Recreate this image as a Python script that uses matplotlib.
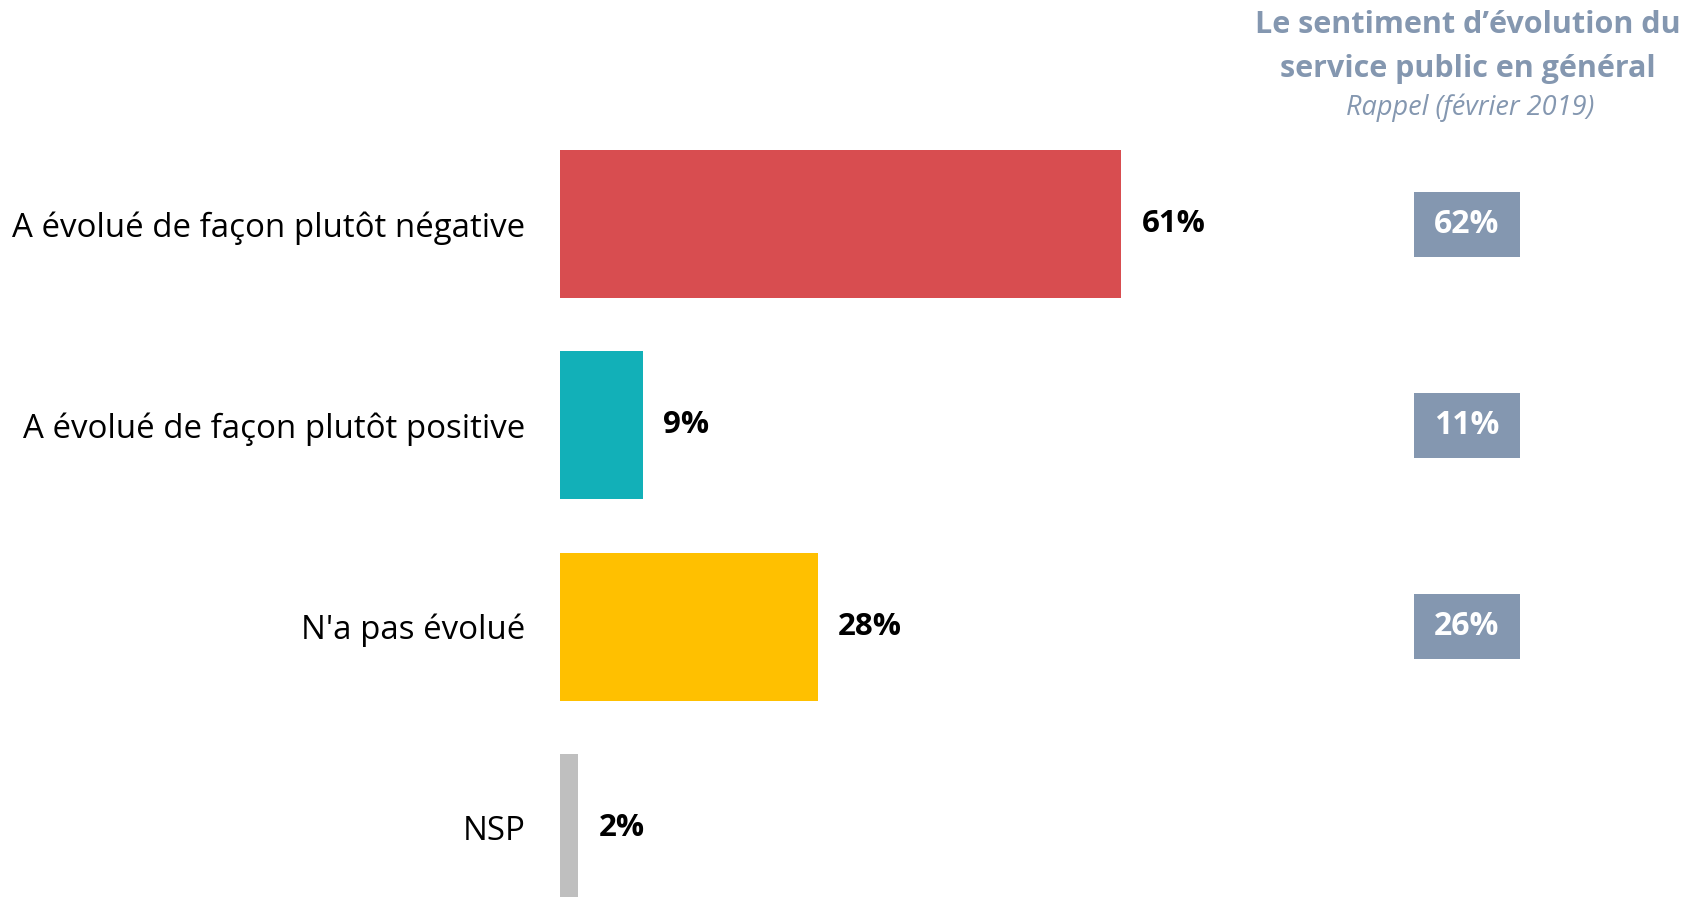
import matplotlib
matplotlib.use("Agg")
import matplotlib.pyplot as plt

plt.rcParams['font.family'] = ['Open Sans', 'DejaVu Sans']

categories = ["A évolué de façon plutôt négative",
              "A évolué de façon plutôt positive",
              "N'a pas évolué",
              "NSP"]
values = [61, 9, 28, 2]
bar_colors = ["#D84D50", "#12B0B8", "#FFC000", "#BFBFBF"]

# rappel fevrier 2019 (no value for NSP)
rappel_values = [62, 11, 26]

header_title = "Le sentiment d\u2019évolution du\nservice public en général"
header_sub = "Rappel (février 2019)"

W, H = 1690, 897
fig = plt.figure(figsize=(W / 100, H / 100), dpi=100)

# main bars
ax = fig.add_axes([560 / W, 0, (W - 560) / W, 1])
y = list(range(len(categories)))
ax.barh(y, values, height=0.735, color=bar_colors)
ax.set_ylim(3.343, -1.113)
ax.set_xlim(0, (W - 560) / 9.2)
ax.set_yticks(y)
ax.set_yticklabels(categories, fontsize=23.8)
ax.tick_params(axis='y', length=0, pad=25)
ax.set_xticks([])
for s in ax.spines.values():
    s.set_visible(False)

for yi, v in zip(y, values):
    ax.text(v + 2.2, yi, f"{v}%", va='center', ha='left',
            fontsize=22.5, fontweight='bold', color='black')

# rappel boxes
ax2 = fig.add_axes([1414 / W, 0, 106 / W, 1], sharey=ax)
ax2.barh(y[:len(rappel_values)], [1] * len(rappel_values),
         height=0.323, color="#8497B0")
ax2.set_xlim(0, 1)
ax2.axis('off')
for yi, v in zip(y, rappel_values):
    ax2.text(0.5, yi, f"{v}%", va='center', ha='center',
             fontsize=23, fontweight='bold', color='white')

# header of the right column
fig.text(1468 / W, 1 - 47 / H, header_title, ha='center', va='center',
         fontsize=22, fontweight='bold', color="#8497B0", linespacing=1.6)
fig.text(1470 / W, 1 - 108 / H, header_sub, ha='center', va='center',
         fontsize=19.5, fontstyle='italic', color="#8497B0")

fig.savefig("out.png", dpi=100)
